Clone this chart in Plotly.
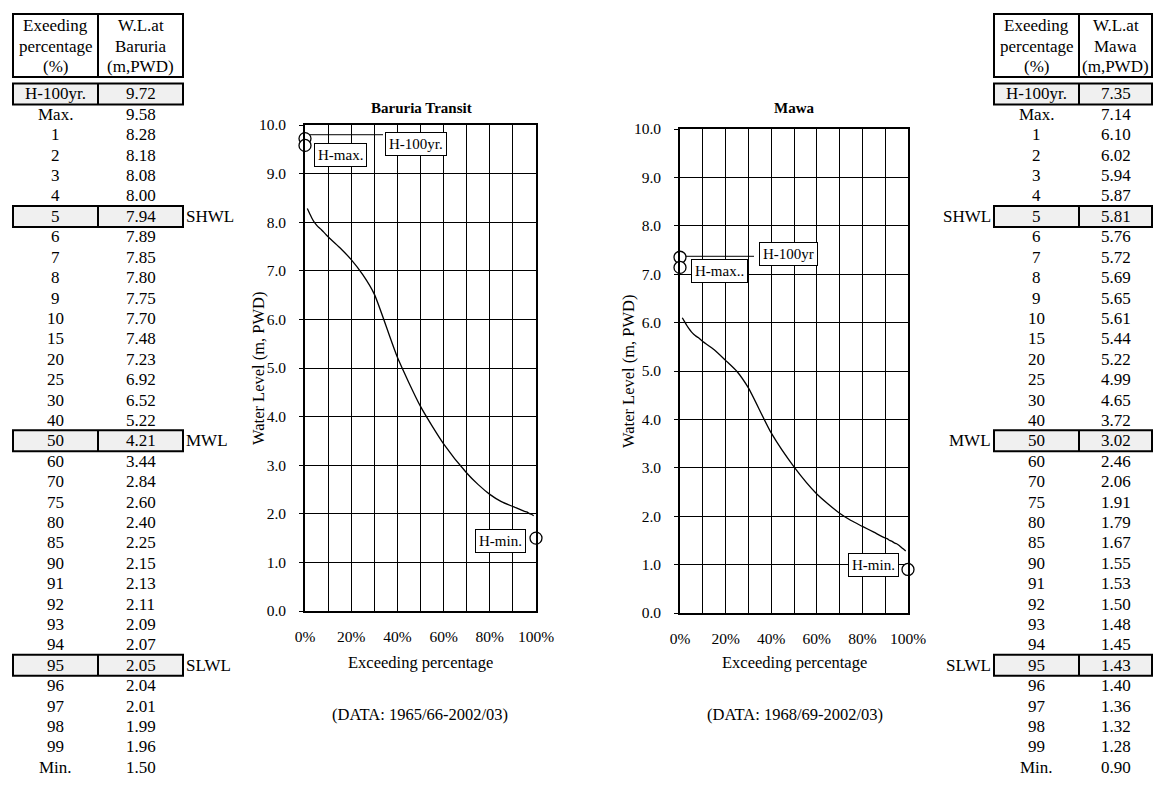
import plotly.graph_objects as go

W, H = 1161, 785

# ---------------- data ----------------
row_labels = ["H-100yr.", "Max.", "1", "2", "3", "4", "5", "6", "7", "8", "9", "10",
              "15", "20", "25", "30", "40", "50", "60", "70", "75", "80", "85",
              "90", "91", "92", "93", "94", "95", "96", "97", "98", "99", "Min."]
pct = [1, 2, 3, 4, 5, 6, 7, 8, 9, 10, 15, 20, 25, 30, 40, 50, 60, 70, 75, 80, 85,
       90, 91, 92, 93, 94, 95, 96, 97, 98, 99]

baruria_h100 = 9.72
baruria_max = 9.58
baruria_min = 1.50
baruria_wl = [8.28, 8.18, 8.08, 8.00, 7.94, 7.89, 7.85, 7.80, 7.75, 7.70, 7.48, 7.23,
              6.92, 6.52, 5.22, 4.21, 3.44, 2.84, 2.60, 2.40, 2.25, 2.15, 2.13, 2.11,
              2.09, 2.07, 2.05, 2.04, 2.01, 1.99, 1.96]

mawa_h100 = 7.35
mawa_max = 7.14
mawa_min = 0.90
mawa_wl = [6.10, 6.02, 5.94, 5.87, 5.81, 5.76, 5.72, 5.69, 5.65, 5.61, 5.44, 5.22,
           4.99, 4.65, 3.72, 3.02, 2.46, 2.06, 1.91, 1.79, 1.67, 1.55, 1.53, 1.50,
           1.48, 1.45, 1.43, 1.40, 1.36, 1.32, 1.28]

highlight_rows = {"H-100yr.": "", "5": "SHWL", "50": "MWL", "95": "SLWL"}
x_ticks = [0, 0.2, 0.4, 0.6, 0.8, 1.0]

FONT = "Liberation Serif, Times New Roman, serif"


def px(x):
    return x / W


def py(y):
    return 1 - y / H


fig = go.Figure()

# ---------------- curves ----------------
for idx, (wl, h100, hmax, hmin) in enumerate([
        (baruria_wl, baruria_h100, baruria_max, baruria_min),
        (mawa_wl, mawa_h100, mawa_max, mawa_min)]):
    xa = "x" if idx == 0 else "x2"
    ya = "y" if idx == 0 else "y2"
    fig.add_trace(go.Scatter(
        x=[p / 100 for p in pct], y=wl, mode="lines",
        line=dict(color="black", width=1.3, shape="spline", smoothing=0.6),
        xaxis=xa, yaxis=ya, hoverinfo="skip"))
    fig.add_trace(go.Scatter(
        x=[0, 0, 1.0], y=[h100, hmax, hmin], mode="markers",
        marker=dict(size=12, color="white", line=dict(color="black", width=1.3)),
        cliponaxis=False, xaxis=xa, yaxis=ya, hoverinfo="skip"))

axis_common = dict(showline=True, linecolor="black", linewidth=1.8, mirror=True,
                   showgrid=True, gridcolor="black", gridwidth=1, zeroline=False,
                   automargin=False,
                   tickfont=dict(family=FONT, size=15.5, color="black"))

xaxis_cfg = dict(axis_common, range=[0, 1], tickvals=x_ticks, tickformat=".0%",
                 ticks="", ticklabelstandoff=10,
                 minor=dict(dtick=0.1, showgrid=True, gridcolor="black", gridwidth=1))
yaxis_cfg = dict(axis_common, range=[0, 10], dtick=1, tickformat=".1f",
                 ticks="outside", ticklen=4, tickcolor="black", ticklabelstandoff=10)

fig.update_layout(
    width=W, height=H, margin=dict(l=0, r=0, t=0, b=0, pad=0, autoexpand=False),
    autosize=False,
    paper_bgcolor="white", plot_bgcolor="white", showlegend=False,
    xaxis=dict(xaxis_cfg, domain=[px(305), px(536)], anchor="y"),
    yaxis=dict(yaxis_cfg, domain=[py(611), py(125)], anchor="x"),
    xaxis2=dict(xaxis_cfg, domain=[px(680), px(908)], anchor="y2"),
    yaxis2=dict(yaxis_cfg, domain=[py(613), py(129)], anchor="x2"),
)

ann = []
shapes = []


def text(x, y, s, size=15, xanchor="center", bold=False, angle=0):
    ann.append(dict(x=px(x), y=py(y), xref="paper", yref="paper", text=("<b>%s</b>" % s) if bold else s,
                    showarrow=False, xanchor=xanchor, yanchor="middle", textangle=angle,
                    font=dict(family=FONT, size=size, color="black")))


def box_label(x, y, s):
    ann.append(dict(x=px(x), y=py(y), xref="paper", yref="paper", text=s, showarrow=False,
                    xanchor="center", yanchor="middle", bgcolor="white", bordercolor="black",
                    borderwidth=1, borderpad=3, font=dict(family=FONT, size=15, color="black")))


# chart texts
text(422, 108, "Baruria Transit", size=15, bold=True)
text(794, 108, "Mawa", size=15, bold=True)
text(258, 368, "Water Level (m, PWD)", size=16.5, angle=-90)
text(628, 371, "Water Level (m, PWD)", size=16.5, angle=-90)
text(420, 662, "Exceeding percentage", size=16.5)
text(794, 662, "Exceeding percentage", size=16.5)
text(420, 714, "(DATA: 1965/66-2002/03)", size=16.5)
text(795, 714, "(DATA: 1968/69-2002/03)", size=16.5)

# data labels
box_label(416, 144, "H-100yr.")
box_label(340, 155, "H-max.")
box_label(500, 541, "H-min.")
box_label(788, 254, "H-100yr")
box_label(719, 271, "H-max..")
box_label(873, 565, "H-min.")
# leader lines for H-100yr labels
shapes.append(dict(type="line", xref="x", yref="y", x0=0, x1=(383 - 305) / 231,
                   y0=baruria_h100 + 0.08, y1=baruria_h100 + 0.08,
                   line=dict(color="black", width=1), layer="between"))
shapes.append(dict(type="line", xref="x2", yref="y2", x0=0, x1=(754 - 680) / 228,
                   y0=mawa_h100 + 0.02, y1=mawa_h100 + 0.02,
                   line=dict(color="black", width=1), layer="between"))


# ---------------- tables ----------------
def rect(x0, y0, x1, y1, fill="rgba(0,0,0,0)", w=2):
    shapes.append(dict(type="rect", xref="paper", yref="paper", x0=px(x0), x1=px(x1),
                       y0=py(y1), y1=py(y0), fillcolor=fill, line=dict(color="black", width=w),
                       layer="below"))


def vline(x, y0, y1, w=2):
    shapes.append(dict(type="line", xref="paper", yref="paper", x0=px(x), x1=px(x),
                       y0=py(y0), y1=py(y1), line=dict(color="black", width=w)))


def table(x0, xm, x1, station, values, side_label_x, side_anchor):
    # header
    rect(x0, 14, x1, 77)
    vline(xm, 14, 77)
    c1 = (x0 + xm) / 2
    c2 = (xm + x1) / 2
    for i, (a, b) in enumerate([("Exeeding", "W.L.at"), ("percentage", station), ("(%)", "(m,PWD)")]):
        yy = 26 + i * 20.5
        text(c1, yy, a, size=17)
        text(c2, yy, b, size=17)
    y0 = 94
    dy = 20.4
    for i, (lab, val) in enumerate(zip(row_labels, values)):
        yy = y0 + dy * i
        if lab in highlight_rows:
            rect(x0, yy - 10.5, x1, yy + 10.5, fill="#f0f0f0")
            vline(xm, yy - 10.5, yy + 10.5)
            if highlight_rows[lab]:
                text(side_label_x, yy, highlight_rows[lab], size=17, xanchor=side_anchor)
        text(c1, yy, lab, size=17)
        text(c2, yy, "%.2f" % val, size=17)


table(13, 98, 183, "Baruria", [baruria_h100, baruria_max] + baruria_wl + [baruria_min], 184, "left")
table(994, 1079, 1152, "Mawa", [mawa_h100, mawa_max] + mawa_wl + [mawa_min], 993, "right")

fig.update_layout(annotations=ann, shapes=shapes)
fig.write_html("out.html")
